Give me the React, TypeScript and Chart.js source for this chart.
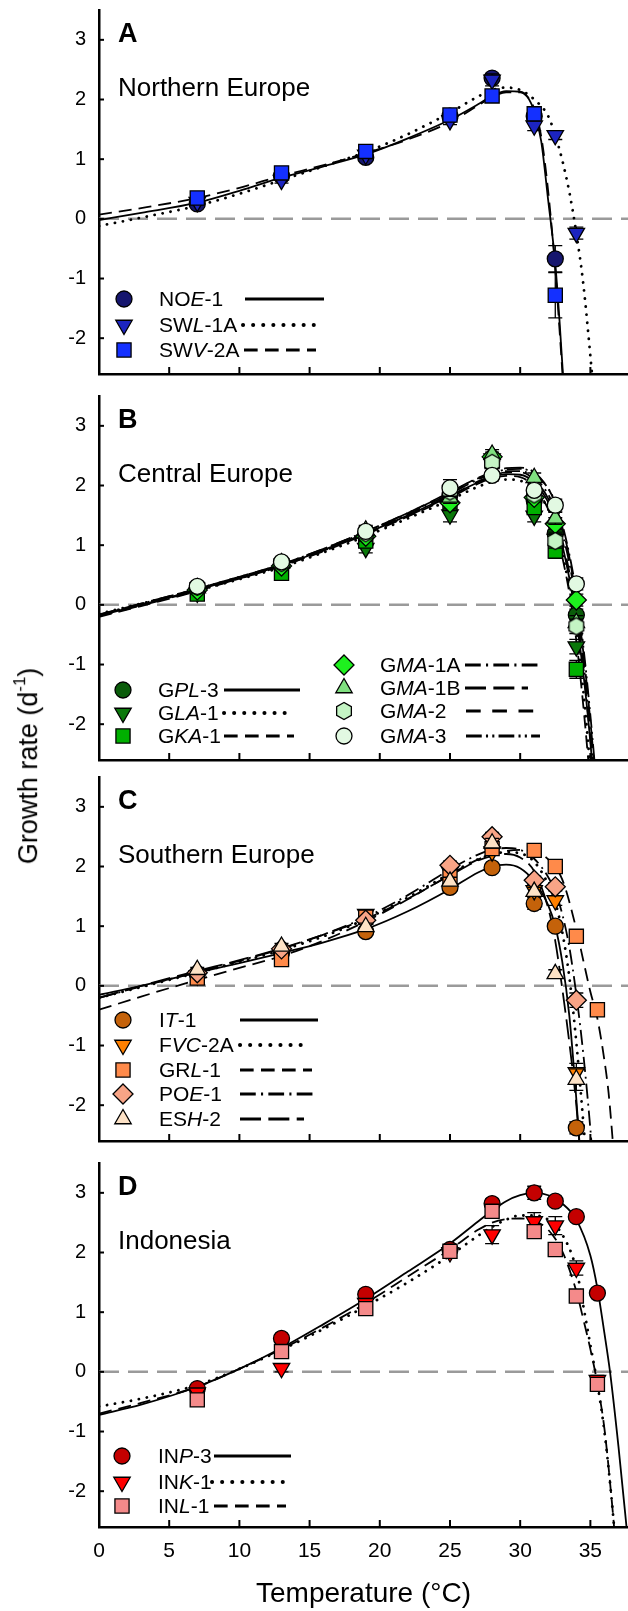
import React, { useEffect, useRef } from "react";
import { Chart, registerables } from "chart.js";

Chart.register(...registerables);

const FONT = "'Liberation Sans', Arial, Helvetica, sans-serif";
Chart.defaults.font.family = FONT;
Chart.defaults.color = "#000";

// ---------- axes ----------
const X_TICKS = [0, 5, 10, 15, 20, 25, 30, 35];
const Y_TICKS = [-2, -1, 0, 1, 2, 3];
const X_MIN = 0;
const X_MAX = 37.68;
const Y_MIN = -2.6;
const Y_MAX = 3.5;
const X_TITLE = "Temperature (°C)";

// ---------- Panel A : Northern Europe ----------
const tempA = [7, 13, 19, 25, 28, 31, 32.5, 34];
const noe1 = [0.25, 0.72, 1.03, 1.72, 2.36, 1.72, -0.67, null];
const noe1Err = [0.04, 0.05, 0.06, 0.06, 0.07, 0.06, 0.22, 0];
const swl1a = [0.28, 0.65, 1.07, 1.65, 2.33, 1.56, 1.4, -0.24];
const swl1aErr = [0.04, 0.05, 0.05, 0.07, 0.1, 0.08, 0.07, 0.1];
const swv2a = [0.35, 0.77, 1.13, 1.74, 2.06, 1.76, -1.28, null];
const swv2aErr = [0.04, 0.05, 0.05, 0.07, 0.06, 0.07, 0.38, 0];

const fitT_noe1 = [0, 3, 7, 10, 13, 16, 19, 22, 25, 27, 28, 29, 30, 30.5, 31, 31.5, 32, 32.5, 32.8, 33.1];
const fit_noe1 = [-0.02, 0.1, 0.27, 0.47, 0.69, 0.88, 1.08, 1.35, 1.66, 1.92, 2.06, 2.14, 2.13, 2.05, 1.8, 1.3, 0.3, -0.75, -1.7, -2.8];
const fitT_swl1a = [0, 3, 7, 10, 13, 16, 19, 22, 25, 27, 28, 29, 30, 31, 32, 32.5, 33, 33.5, 34, 34.5, 35, 35.3];
const fit_swl1a = [-0.12, 0.02, 0.22, 0.42, 0.65, 0.88, 1.12, 1.42, 1.78, 2.05, 2.16, 2.2, 2.16, 2.0, 1.72, 1.4, 0.98, 0.45, -0.24, -1.1, -2.3, -3.1];
const fitT_swv2a = [0, 3, 7, 10, 13, 16, 19, 22, 25, 27, 28, 29, 30, 30.5, 31, 31.5, 32, 32.5, 32.8, 33.1];
const fit_swv2a = [0.07, 0.18, 0.35, 0.52, 0.72, 0.9, 1.1, 1.33, 1.62, 1.9, 2.04, 2.12, 2.12, 2.05, 1.85, 1.38, 0.45, -0.85, -1.85, -2.9];

// ---------- Panel B : Central Europe ----------
const tempB = [7, 13, 19, 25, 28, 31, 32.5, 34];
const gpl3 = [0.25, 0.68, 1.18, 1.85, 2.45, 1.75, 1.2, -0.17];
const gpl3Err = [0.05, 0.05, 0.08, 0.1, 0.08, 0.08, 0.1, 0.1];
const gla1 = [0.2, 0.6, 0.95, 1.51, 2.45, 1.49, 1.1, -0.7];
const gla1Err = [0.05, 0.05, 0.08, 0.12, 0.08, 0.1, 0.12, 0.12];
const gka1 = [0.18, 0.53, 1.07, 1.7, 2.4, 1.63, 0.9, -1.08];
const gka1Err = [0.05, 0.05, 0.08, 0.1, 0.08, 0.1, 0.12, 0.15];
const gma1a = [0.25, 0.65, 1.15, 1.71, 2.48, 1.8, 1.36, 0.08];
const gma1aErr = [0.05, 0.05, 0.08, 0.1, 0.08, 0.08, 0.1, 0.1];
const gma1b = [0.28, 0.7, 1.25, 1.8, 2.52, 2.13, 1.45, -0.3];
const gma1bErr = [0.05, 0.05, 0.08, 0.1, 0.08, 0.08, 0.1, 0.12];
const gma2 = [0.3, 0.7, 1.2, 1.9, 2.38, 1.85, 1.07, -0.36];
const gma2Err = [0.05, 0.05, 0.08, 0.1, 0.08, 0.08, 0.12, 0.12];
const gma3 = [0.31, 0.72, 1.23, 1.96, 2.17, 1.92, 1.67, 0.35];
const gma3Err = [0.05, 0.05, 0.08, 0.14, 0.08, 0.08, 0.1, 0.1];

const fitT_B = [0, 3, 7, 10, 13, 16, 19, 22, 25, 27, 28, 29, 30, 31, 32, 32.5, 33, 33.5, 34, 34.5, 35, 35.4];
const fit_gpl3 = [-0.18, 0.0, 0.25, 0.45, 0.66, 0.92, 1.2, 1.5, 1.83, 2.05, 2.14, 2.19, 2.18, 2.05, 1.72, 1.42, 1.0, 0.45, -0.25, -1.15, -2.3, -3.4];
const fitT_gla1 = [0, 3, 7, 10, 13, 16, 19, 22, 25, 27, 28, 29, 30, 31, 32, 32.5, 33, 33.5, 34, 34.5, 35];
const fit_gla1 = [-0.15, 0.02, 0.24, 0.43, 0.63, 0.88, 1.15, 1.45, 1.76, 1.98, 2.06, 2.1, 2.08, 1.95, 1.6, 1.3, 0.85, 0.3, -0.45, -1.45, -2.75];
const fitT_gka1 = [0, 3, 7, 10, 13, 16, 19, 22, 25, 27, 28, 29, 30, 31, 32, 32.5, 33, 33.5, 34, 34.5, 35];
const fit_gka1 = [-0.2, -0.02, 0.23, 0.44, 0.65, 0.9, 1.18, 1.48, 1.8, 2.03, 2.12, 2.16, 2.14, 1.98, 1.6, 1.28, 0.8, 0.2, -0.6, -1.7, -3.0];
const fit_gma1a = [-0.17, 0.01, 0.26, 0.46, 0.67, 0.93, 1.22, 1.52, 1.86, 2.1, 2.19, 2.24, 2.24, 2.14, 1.85, 1.6, 1.2, 0.7, 0.0, -0.95, -2.15, -3.2];
const fit_gma1b = [-0.17, 0.02, 0.27, 0.47, 0.68, 0.94, 1.23, 1.54, 1.89, 2.13, 2.22, 2.29, 2.3, 2.22, 1.95, 1.7, 1.3, 0.8, 0.1, -0.8, -1.95, -3.0];
const fit_gma2 = [-0.19, -0.01, 0.24, 0.44, 0.65, 0.91, 1.19, 1.49, 1.82, 2.07, 2.16, 2.22, 2.22, 2.1, 1.78, 1.5, 1.08, 0.55, -0.15, -1.05, -2.25, -3.3];
const fit_gma3 = [-0.16, 0.02, 0.27, 0.47, 0.68, 0.94, 1.23, 1.54, 1.88, 2.12, 2.2, 2.27, 2.28, 2.2, 1.95, 1.72, 1.35, 0.85, 0.2, -0.7, -1.85, -2.9];

// ---------- Panel C : Southern Europe ----------
const tempC = [7, 13, 19, 25, 28, 31, 32.5, 34, 35.5];
const it1 = [0.2, 0.55, 0.91, 1.65, 1.98, 1.38, 1.0, -2.38, null];
const it1Err = [0.04, 0.05, 0.06, 0.06, 0.06, 0.1, 0.06, 0.1, 0];
const fvc2a = [0.17, 0.52, 1.2, 1.9, 2.25, 1.6, 1.43, -1.45, null];
const fvc2aErr = [0.04, 0.05, 0.06, 0.08, 0.06, 0.08, 0.08, 0.15, 0];
const grl1 = [0.13, 0.44, 1.15, 1.83, 2.3, 2.27, 2.0, 0.83, -0.4];
const grl1Err = [0.04, 0.05, 0.06, 0.08, 0.06, 0.06, 0.06, 0.06, 0.06];
const poe1 = [0.22, 0.62, 1.1, 2.02, 2.5, 1.77, 1.66, -0.24, null];
const poe1Err = [0.04, 0.05, 0.06, 0.07, 0.07, 0.07, 0.07, 0.12, 0];
const esh2 = [0.27, 0.66, 0.99, 1.75, 2.39, 1.58, 0.2, -1.57, null];
const esh2Err = [0.04, 0.05, 0.06, 0.07, 0.08, 0.07, 0.07, 0.18, 0];

const fitT_it1 = [0, 3, 7, 10, 13, 16, 19, 22, 25, 27, 28, 29, 30, 31, 32, 32.5, 33, 33.5, 34, 34.4];
const fit_it1 = [-0.15, 0.0, 0.22, 0.38, 0.55, 0.73, 0.95, 1.25, 1.62, 1.9, 2.0, 2.03, 1.97, 1.75, 1.35, 1.0, 0.4, -0.5, -1.9, -3.2];
const fitT_fvc2a = [0, 3, 7, 10, 13, 16, 19, 22, 25, 27, 28, 29, 30, 31, 32, 32.5, 33, 33.5, 34, 34.5, 34.8];
const fit_fvc2a = [-0.2, -0.02, 0.22, 0.4, 0.6, 0.83, 1.12, 1.48, 1.88, 2.12, 2.2, 2.24, 2.22, 2.08, 1.7, 1.4, 0.9, 0.15, -0.95, -2.3, -3.2];
const fitT_grl1 = [0, 3, 7, 10, 13, 16, 19, 22, 25, 27, 28, 29, 30, 31, 32, 33, 34, 34.5, 35, 35.5, 36, 36.3, 36.7];
const fit_grl1 = [-0.4, -0.18, 0.1, 0.3, 0.5, 0.76, 1.08, 1.45, 1.86, 2.12, 2.2, 2.26, 2.28, 2.25, 2.12, 1.78, 0.95, 0.42, -0.1, -0.55, -1.25, -1.8, -2.9];
const fitT_poe1 = [0, 3, 7, 10, 13, 16, 19, 22, 25, 27, 28, 29, 30, 31, 32, 32.5, 33, 33.5, 34, 34.5, 35, 35.3];
const fit_poe1 = [-0.2, -0.01, 0.23, 0.42, 0.62, 0.86, 1.15, 1.52, 1.95, 2.2, 2.28, 2.31, 2.28, 2.13, 1.82, 1.58, 1.2, 0.65, -0.15, -1.15, -2.4, -3.3];
const fitT_esh2 = [0, 3, 7, 10, 13, 16, 19, 22, 25, 27, 28, 29, 30, 31, 32, 32.5, 33, 33.5, 34, 34.4];
const fit_esh2 = [-0.2, 0.0, 0.25, 0.43, 0.63, 0.86, 1.12, 1.46, 1.85, 2.1, 2.18, 2.21, 2.15, 1.92, 1.3, 0.75, -0.05, -0.95, -2.0, -3.2];

// ---------- Panel D : Indonesia ----------
const tempD = [7, 13, 19, 25, 28, 31, 32.5, 34, 35.5];
const inp3 = [-0.28, 0.56, 1.3, 2.05, 2.82, 3.0, 2.86, 2.6, 1.32];
const inp3Err = [0.06, 0.06, 0.06, 0.06, 0.08, 0.11, 0.06, 0.06, 0.06];
const ink1 = [-0.35, 0.06, 1.15, 2.0, 2.3, 2.52, 2.45, 1.74, -0.14];
const ink1Err = [0.06, 0.06, 0.06, 0.06, 0.15, 0.15, 0.15, 0.12, 0.08];
const inl1 = [-0.47, 0.34, 1.06, 2.02, 2.69, 2.35, 2.05, 1.27, -0.21];
const inl1Err = [0.06, 0.08, 0.06, 0.06, 0.1, 0.08, 0.08, 0.08, 0.08];

const fitT_D = [0, 3, 7, 10, 13, 16, 19, 22, 25, 27, 28, 29, 30, 31, 32, 33, 34, 34.5, 35, 35.5, 36, 36.5, 36.8];
const fitT_inp3 = [0, 3, 7, 10, 13, 16, 19, 22, 25, 27, 28, 29, 30, 31, 32, 33, 34, 35, 35.5, 36, 36.4, 37, 37.7];
const fit_inp3 = [-0.72, -0.55, -0.25, 0.05, 0.4, 0.8, 1.22, 1.68, 2.15, 2.52, 2.7, 2.86, 2.96, 3.0, 2.96, 2.82, 2.55, 1.95, 1.4, 0.65, 0.0, -1.25, -2.9];
const fit_ink1 = [-0.58, -0.45, -0.22, 0.05, 0.37, 0.72, 1.1, 1.5, 1.95, 2.28, 2.43, 2.55, 2.62, 2.62, 2.55, 2.3, 1.72, 1.1, 0.45, -0.2, -1.0, -2.1, -2.9];
const fit_inl1 = [-0.7, -0.52, -0.25, 0.05, 0.38, 0.75, 1.15, 1.6, 2.05, 2.38, 2.5, 2.56, 2.57, 2.53, 2.38, 2.02, 1.35, 0.88, 0.38, -0.2, -0.95, -2.1, -2.9];

// ---------- styles ----------
const SOLID: number[] = [];
const DOT = [0.1, 8];
const DASH = [13, 7];
const DASHDOT = [15, 5, 2, 5];
const LONGDASH = [20, 7];
const DASH2 = [14, 11];
const DASHDOTDOT = [15, 4, 2, 4, 2, 4];

// ---------- layout ----------
const W = 628;
const PAD_TOP = 26;
const PAD_BOTTOM_SMALL = 26;
const X_AXIS_H = 84;
const AREA_H = 364;
const PANEL_TOPS = [10, 396, 777, 1163];
const AXIS_LEFT = 99;

type Seg = { t: string; i?: boolean };
type Series = {
  name: Seg[];
  marker: string;
  fill: string;
  t: number[];
  y: (number | null)[];
  e: number[];
  fitT: number[];
  fitY: number[];
  dash: number[];
  leg: { mx: number; tx: number; lx1: number; lx2: number; dy: number };
};
type PanelSpec = { letter: string; title: string; series: Series[] };

const panels: PanelSpec[] = [
  {
    letter: "A",
    title: "Northern Europe",
    series: [
      { name: [{ t: "NO" }, { t: "E", i: true }, { t: "-1" }], marker: "circle", fill: "#16166e", t: tempA, y: noe1, e: noe1Err, fitT: fitT_noe1, fitY: fit_noe1, dash: SOLID, leg: { mx: 124, tx: 159, lx1: 245, lx2: 324, dy: 289 } },
      { name: [{ t: "SW" }, { t: "L", i: true }, { t: "-1A" }], marker: "triDown", fill: "#1c24c0", t: tempA, y: swl1a, e: swl1aErr, fitT: fitT_swl1a, fitY: fit_swl1a, dash: DOT, leg: { mx: 124, tx: 159, lx1: 243, lx2: 316, dy: 315 } },
      { name: [{ t: "SW" }, { t: "V", i: true }, { t: "-2A" }], marker: "square", fill: "#1430ff", t: tempA, y: swv2a, e: swv2aErr, fitT: fitT_swv2a, fitY: fit_swv2a, dash: DASH, leg: { mx: 124, tx: 159, lx1: 244, lx2: 316, dy: 340 } },
    ],
  },
  {
    letter: "B",
    title: "Central Europe",
    series: [
      { name: [{ t: "G" }, { t: "PL", i: true }, { t: "-3" }], marker: "circle", fill: "#0a5c0a", t: tempB, y: gpl3, e: gpl3Err, fitT: fitT_B, fitY: fit_gpl3, dash: SOLID, leg: { mx: 123, tx: 158, lx1: 224, lx2: 300, dy: 294 } },
      { name: [{ t: "G" }, { t: "LA", i: true }, { t: "-1" }], marker: "triDown", fill: "#0a780a", t: tempB, y: gla1, e: gla1Err, fitT: fitT_gla1, fitY: fit_gla1, dash: DOT, leg: { mx: 123, tx: 158, lx1: 224, lx2: 294, dy: 317 } },
      { name: [{ t: "G" }, { t: "KA", i: true }, { t: "-1" }], marker: "square", fill: "#00b000", t: tempB, y: gka1, e: gka1Err, fitT: fitT_gka1, fitY: fit_gka1, dash: DASH, leg: { mx: 123, tx: 158, lx1: 224, lx2: 294, dy: 340 } },
      { name: [{ t: "G" }, { t: "MA", i: true }, { t: "-1A" }], marker: "diamond", fill: "#1ef01e", t: tempB, y: gma1a, e: gma1aErr, fitT: fitT_B, fitY: fit_gma1a, dash: DASHDOT, leg: { mx: 344, tx: 380, lx1: 465, lx2: 541, dy: 269 } },
      { name: [{ t: "G" }, { t: "MA", i: true }, { t: "-1B" }], marker: "triUp", fill: "#80e080", t: tempB, y: gma1b, e: gma1bErr, fitT: fitT_B, fitY: fit_gma1b, dash: LONGDASH, leg: { mx: 344, tx: 380, lx1: 465, lx2: 528, dy: 292 } },
      { name: [{ t: "G" }, { t: "MA", i: true }, { t: "-2" }], marker: "hexagon", fill: "#c4f4c4", t: tempB, y: gma2, e: gma2Err, fitT: fitT_B, fitY: fit_gma2, dash: DASH2, leg: { mx: 344, tx: 380, lx1: 466, lx2: 543, dy: 315 } },
      { name: [{ t: "G" }, { t: "MA", i: true }, { t: "-3" }], marker: "circle", fill: "#e2f9e2", t: tempB, y: gma3, e: gma3Err, fitT: fitT_B, fitY: fit_gma3, dash: DASHDOTDOT, leg: { mx: 344, tx: 380, lx1: 466, lx2: 540, dy: 340 } },
    ],
  },
  {
    letter: "C",
    title: "Southern Europe",
    series: [
      { name: [{ t: "I" }, { t: "T", i: true }, { t: "-1" }], marker: "circle", fill: "#c4620a", t: tempC, y: it1, e: it1Err, fitT: fitT_it1, fitY: fit_it1, dash: SOLID, leg: { mx: 123, tx: 159, lx1: 240, lx2: 318, dy: 243 } },
      { name: [{ t: "F" }, { t: "VC", i: true }, { t: "-2A" }], marker: "triDown", fill: "#ff8000", t: tempC, y: fvc2a, e: fvc2aErr, fitT: fitT_fvc2a, fitY: fit_fvc2a, dash: DOT, leg: { mx: 123, tx: 159, lx1: 240, lx2: 310, dy: 268 } },
      { name: [{ t: "GR" }, { t: "L", i: true }, { t: "-1" }], marker: "square", fill: "#ff8a4a", t: tempC, y: grl1, e: grl1Err, fitT: fitT_grl1, fitY: fit_grl1, dash: DASH, leg: { mx: 123, tx: 159, lx1: 240, lx2: 312, dy: 293 } },
      { name: [{ t: "PO" }, { t: "E", i: true }, { t: "-1" }], marker: "diamond", fill: "#f8a486", t: tempC, y: poe1, e: poe1Err, fitT: fitT_poe1, fitY: fit_poe1, dash: DASHDOT, leg: { mx: 123, tx: 159, lx1: 240, lx2: 316, dy: 317 } },
      { name: [{ t: "ES" }, { t: "H", i: true }, { t: "-2" }], marker: "triUp", fill: "#fde2c6", t: tempC, y: esh2, e: esh2Err, fitT: fitT_esh2, fitY: fit_esh2, dash: LONGDASH, leg: { mx: 123, tx: 159, lx1: 240, lx2: 304, dy: 342 } },
    ],
  },
  {
    letter: "D",
    title: "Indonesia",
    series: [
      { name: [{ t: "IN" }, { t: "P", i: true }, { t: "-3" }], marker: "circle", fill: "#c40000", t: tempD, y: inp3, e: inp3Err, fitT: fitT_inp3, fitY: fit_inp3, dash: SOLID, leg: { mx: 122, tx: 158, lx1: 214, lx2: 291, dy: 293 } },
      { name: [{ t: "IN" }, { t: "K", i: true }, { t: "-1" }], marker: "triDown", fill: "#ff0000", t: tempD, y: ink1, e: ink1Err, fitT: fitT_D, fitY: fit_ink1, dash: DOT, leg: { mx: 122, tx: 158, lx1: 212, lx2: 284, dy: 319 } },
      { name: [{ t: "IN" }, { t: "L", i: true }, { t: "-1" }], marker: "square", fill: "#f48a8a", t: tempD, y: inl1, e: inl1Err, fitT: fitT_D, fitY: fit_inl1, dash: DASH, leg: { mx: 122, tx: 158, lx1: 214, lx2: 286, dy: 343 } },
    ],
  },
];

// ---------- marker helpers ----------
const MARKER_R: Record<string, number> = { circle: 8, triDown: 9.5, triUp: 9.5, square: 10, diamond: 10, hexagon: 8.5 };
const MARKER_BORDER = 1.3;

function hexPath(ctx: CanvasRenderingContext2D, x: number, y: number, r: number) {
  ctx.beginPath();
  for (let k = 0; k < 6; k++) {
    const a = Math.PI / 2 + (k * Math.PI) / 3;
    const px = x + r * Math.cos(a);
    const py = y - r * Math.sin(a);
    if (k === 0) ctx.moveTo(px, py);
    else ctx.lineTo(px, py);
  }
  ctx.closePath();
}

function makeHexImage(fill: string) {
  const c = document.createElement("canvas");
  c.width = 20;
  c.height = 20;
  const ctx = c.getContext("2d")!;
  hexPath(ctx, 10, 10, MARKER_R.hexagon);
  ctx.fillStyle = fill;
  ctx.fill();
  ctx.lineWidth = MARKER_BORDER;
  ctx.strokeStyle = "#000";
  ctx.stroke();
  return c;
}

function drawMarker(ctx: CanvasRenderingContext2D, kind: string, x: number, y: number, fill: string) {
  const r = MARKER_R[kind];
  ctx.beginPath();
  if (kind === "circle") {
    ctx.arc(x, y, r, 0, Math.PI * 2);
  } else if (kind === "triUp" || kind === "triDown") {
    const s = kind === "triUp" ? 1 : -1;
    for (let k = 0; k < 3; k++) {
      const a = (k * 2 * Math.PI) / 3;
      const px = x + Math.sin(a) * r;
      const py = y - s * Math.cos(a) * r;
      if (k === 0) ctx.moveTo(px, py);
      else ctx.lineTo(px, py);
    }
    ctx.closePath();
  } else if (kind === "square") {
    const h = r * Math.SQRT1_2;
    ctx.rect(x - h, y - h, 2 * h, 2 * h);
  } else if (kind === "diamond") {
    ctx.moveTo(x, y - r);
    ctx.lineTo(x + r, y);
    ctx.lineTo(x, y + r);
    ctx.lineTo(x - r, y);
    ctx.closePath();
  } else if (kind === "hexagon") {
    hexPath(ctx, x, y, r);
  }
  ctx.fillStyle = fill;
  ctx.fill();
  ctx.lineWidth = MARKER_BORDER;
  ctx.strokeStyle = "#000";
  ctx.stroke();
}

function chartPointStyle(s: Series): any {
  if (s.marker === "circle") return { pointStyle: "circle", rotation: 0 };
  if (s.marker === "triDown") return { pointStyle: "triangle", rotation: 180 };
  if (s.marker === "triUp") return { pointStyle: "triangle", rotation: 0 };
  if (s.marker === "square") return { pointStyle: "rect", rotation: 0 };
  if (s.marker === "diamond") return { pointStyle: "rectRot", rotation: 0 };
  return { pointStyle: makeHexImage(s.fill), rotation: 0 };
}

// ---------- chart config ----------
function buildConfig(spec: PanelSpec, isBottom: boolean) {
  const datasets: any[] = [];
  datasets.push({
    label: "zero",
    data: [{ x: X_MIN, y: 0 }, { x: X_MAX, y: 0 }],
    showLine: true,
    borderColor: "#9a9a9a",
    borderWidth: 2.5,
    borderDash: [20, 9],
    pointRadius: 0,
    order: 100,
  });
  spec.series.forEach((s) => {
    const dotted = s.dash === DOT;
    datasets.push({
      label: s.name.map((g) => g.t).join("") + " fit",
      data: s.fitT.map((t, i) => ({ x: t, y: s.fitY[i] })),
      showLine: true,
      borderColor: "#000",
      borderWidth: dotted ? 2.8 : 1.8,
      borderDash: s.dash,
      borderCapStyle: dotted ? "round" : "butt",
      cubicInterpolationMode: "monotone",
      pointRadius: 0,
      order: 50,
    });
  });
  spec.series.forEach((s, idx) => {
    const ps = chartPointStyle(s);
    const data: any[] = [];
    s.t.forEach((t, i) => {
      const v = s.y[i];
      if (v !== null && v !== undefined) data.push({ x: t, y: v, e: s.e[i] });
    });
    datasets.push({
      label: s.name.map((g) => g.t).join(""),
      data,
      showLine: false,
      pointStyle: ps.pointStyle,
      rotation: ps.rotation,
      pointRotation: ps.rotation,
      pointRadius: MARKER_R[s.marker],
      pointHoverRadius: MARKER_R[s.marker],
      backgroundColor: s.fill,
      pointBackgroundColor: s.fill,
      borderColor: "#000",
      pointBorderColor: "#000",
      pointBorderWidth: MARKER_BORDER,
      borderWidth: MARKER_BORDER,
      errors: true,
      order: 40 - idx,
    });
  });

  const decor = {
    id: "decor_" + spec.letter,
    beforeDatasetDraw(chart: any, args: any) {
      const ds = chart.data.datasets[args.index];
      if (!ds.errors) return;
      const ctx = chart.ctx;
      const ys = chart.scales.y;
      const xs = chart.scales.x;
      ctx.save();
      ctx.strokeStyle = "#000";
      ctx.lineWidth = 1.3;
      ds.data.forEach((p: any) => {
        if (!p.e) return;
        const px = xs.getPixelForValue(p.x);
        const y1 = ys.getPixelForValue(p.y + p.e);
        const y2 = ys.getPixelForValue(p.y - p.e);
        ctx.beginPath();
        ctx.moveTo(px, y1);
        ctx.lineTo(px, y2);
        ctx.moveTo(px - 7, y1);
        ctx.lineTo(px + 7, y1);
        ctx.moveTo(px - 7, y2);
        ctx.lineTo(px + 7, y2);
        ctx.stroke();
      });
      ctx.restore();
    },
    afterDraw(chart: any) {
      const ctx = chart.ctx;
      const area = chart.chartArea;
      const xs = chart.scales.x;
      const ys = chart.scales.y;
      ctx.save();
      // inside tick marks
      ctx.strokeStyle = "#000";
      ctx.lineWidth = 2;
      X_TICKS.forEach((v) => {
        if (v === X_MIN) return;
        const px = xs.getPixelForValue(v);
        ctx.beginPath();
        ctx.moveTo(px, area.bottom);
        ctx.lineTo(px, area.bottom - 7);
        ctx.stroke();
      });
      Y_TICKS.forEach((v) => {
        const py = ys.getPixelForValue(v);
        ctx.beginPath();
        ctx.moveTo(area.left, py);
        ctx.lineTo(area.left + 5, py);
        ctx.stroke();
      });
      // panel letter and region
      ctx.fillStyle = "#000";
      ctx.textBaseline = "alphabetic";
      ctx.textAlign = "left";
      ctx.font = `bold 27px ${FONT}`;
      ctx.fillText(spec.letter, 118, area.top + 32);
      ctx.font = `26px ${FONT}`;
      ctx.fillText(spec.title, 118, area.top + 86);
      // legend
      spec.series.forEach((s) => {
        const y = area.top + s.leg.dy;
        drawMarker(ctx, s.marker, s.leg.mx, y, s.fill);
        let x = s.leg.tx;
        ctx.fillStyle = "#000";
        ctx.textBaseline = "middle";
        s.name.forEach((g) => {
          ctx.font = `${g.i ? "italic " : ""}21px ${FONT}`;
          ctx.fillText(g.t, x, y + 1);
          x += ctx.measureText(g.t).width;
        });
        const dotted = s.dash === DOT;
        ctx.beginPath();
        ctx.setLineDash(dotted ? [0.1, 10] : s.dash.map((d) => d * 1.05));
        ctx.lineCap = dotted ? "round" : "butt";
        ctx.lineWidth = dotted ? 4 : 3;
        ctx.strokeStyle = "#000";
        ctx.moveTo(s.leg.lx1, y);
        ctx.lineTo(s.leg.lx2, y);
        ctx.stroke();
        ctx.setLineDash([]);
        ctx.lineCap = "butt";
      });
      ctx.restore();
    },
  };

  return {
    type: "scatter" as const,
    data: { datasets },
    options: {
      animation: false,
      responsive: false,
      devicePixelRatio: 1,
      layout: { autoPadding: false, padding: { top: PAD_TOP, left: 0, right: 0, bottom: 0 } },
      plugins: { legend: { display: false }, tooltip: { enabled: false } },
      events: [],
      scales: {
        x: {
          type: "linear",
          min: X_MIN,
          max: X_MAX,
          afterBuildTicks: (s: any) => {
            s.ticks = X_TICKS.map((v) => ({ value: v }));
          },
          afterFit: (s: any) => {
            s.height = isBottom ? X_AXIS_H : PAD_BOTTOM_SMALL;
          },
          grid: { display: false, drawTicks: false },
          border: { display: true, color: "#000", width: 2.5 },
          ticks: { display: isBottom, color: "#000", font: { size: 21 }, padding: 12, maxRotation: 0, autoSkip: false },
          title: { display: isBottom, text: X_TITLE, color: "#000", font: { size: 28 }, padding: { top: 0, bottom: 0 } },
        },
        y: {
          type: "linear",
          min: Y_MIN,
          max: Y_MAX,
          afterBuildTicks: (s: any) => {
            s.ticks = Y_TICKS.map((v) => ({ value: v }));
          },
          afterFit: (s: any) => {
            s.width = AXIS_LEFT;
          },
          grid: { display: false, drawTicks: false },
          border: { display: true, color: "#000", width: 2.5 },
          ticks: { color: "#000", font: { size: 20 }, padding: 13 },
        },
      },
    },
    plugins: [decor],
  };
}

function Panel({ spec, top, isBottom }: { spec: PanelSpec; top: number; isBottom: boolean }) {
  const ref = useRef<HTMLCanvasElement>(null);
  const h = PAD_TOP + AREA_H + (isBottom ? X_AXIS_H : PAD_BOTTOM_SMALL);
  useEffect(() => {
    const chart = new Chart(ref.current as HTMLCanvasElement, buildConfig(spec, isBottom) as any);
    return () => chart.destroy();
  }, []);
  return (
    <canvas
      ref={ref}
      width={W}
      height={h}
      style={{ position: "absolute", left: 0, top: top - PAD_TOP, width: W, height: h }}
    />
  );
}

export default function App() {
  return (
    <div style={{ position: "absolute", left: 0, top: 0, width: W, height: 1611, overflow: "hidden", background: "#fff" }}>
      {panels.map((p, i) => (
        <Panel key={p.letter} spec={p} top={PANEL_TOPS[i]} isBottom={i === panels.length - 1} />
      ))}
      <div
        style={{
          position: "absolute",
          left: 27,
          top: 766,
          transform: "translate(-50%, -50%) rotate(-90deg)",
          fontFamily: FONT,
          fontSize: 27,
          whiteSpace: "nowrap",
          lineHeight: 1,
          color: "#000",
        }}
      >
        Growth rate (d<sup style={{ fontSize: "0.62em", verticalAlign: "0.7em" }}>-1</sup>)
      </div>
    </div>
  );
}
